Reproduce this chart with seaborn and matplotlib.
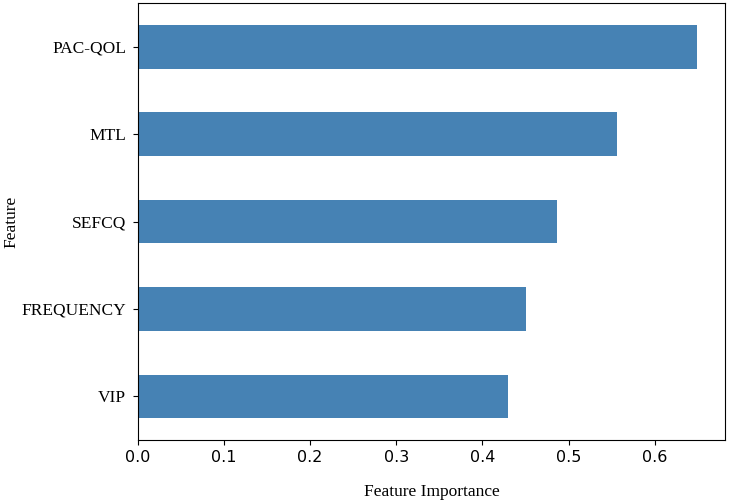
import pandas as pd
import matplotlib
matplotlib.use("Agg")
import matplotlib.pyplot as plt
import seaborn as sns

# Data
features = ["PAC-QOL", "MTL", "SEFCQ", "FREQUENCY", "VIP"]
importance = [0.649, 0.556, 0.487, 0.450, 0.430]

df = pd.DataFrame({"Feature": features, "Feature Importance": importance})

fig, ax = plt.subplots(figsize=(7.29, 5.03), dpi=100)
fig.subplots_adjust(left=0.189, right=0.9945, top=0.994, bottom=0.125)

sns.barplot(
    data=df,
    x="Feature Importance",
    y="Feature",
    orient="h",
    color="steelblue",
    saturation=1,
    width=0.5,
    ax=ax
)

serif = "Liberation Serif"

ax.set_xlabel("Feature Importance", fontsize=12.5, family=serif, labelpad=14)
ax.set_ylabel("Feature", fontsize=12.5, family=serif, labelpad=1)

ax.tick_params(axis="x", labelsize=11.5)
ax.tick_params(axis="y", pad=5)
for label in ax.get_yticklabels():
    label.set_fontfamily(serif)
    label.set_fontsize(12.5)

fig.savefig("out.png", dpi=100)
